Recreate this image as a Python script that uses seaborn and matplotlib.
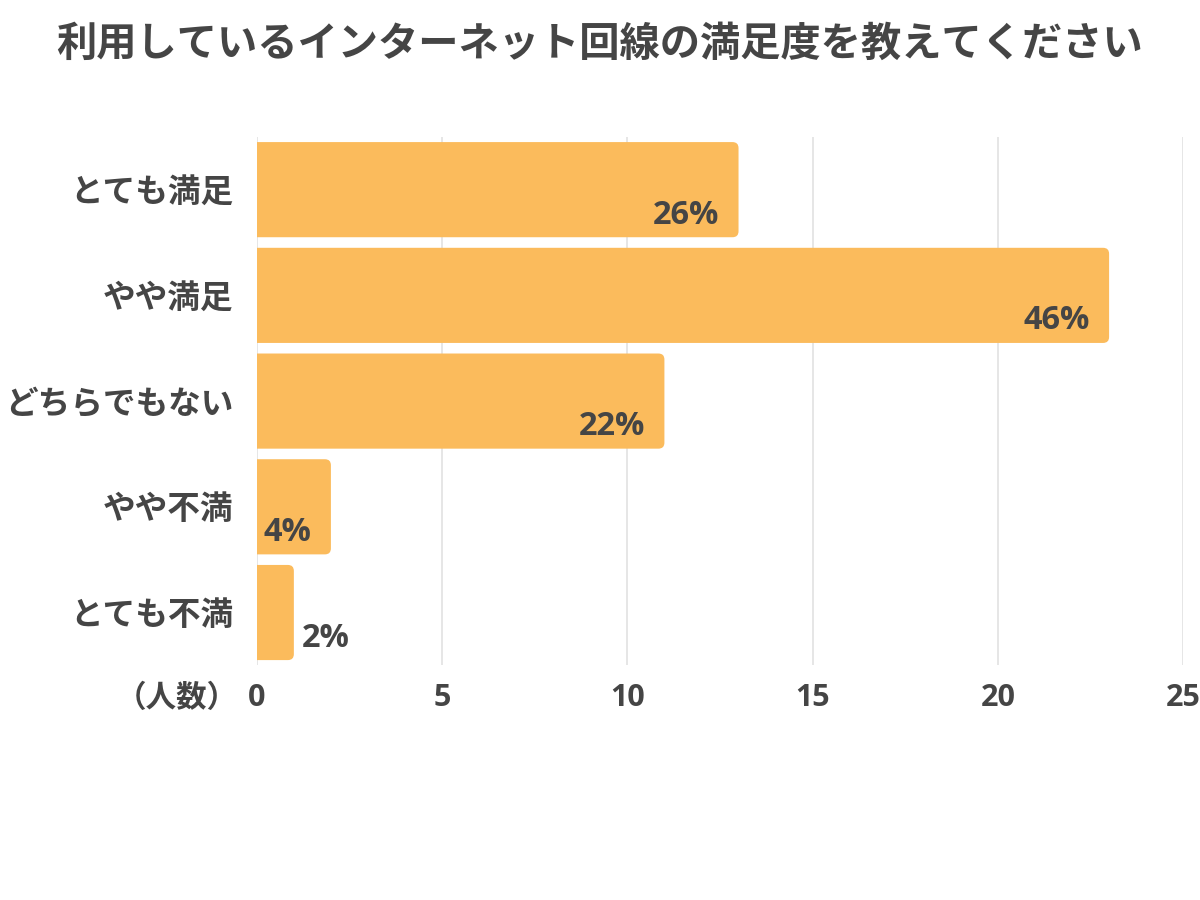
import matplotlib
matplotlib.use("Agg")
import matplotlib.pyplot as plt
import seaborn as sns
import pandas as pd
from matplotlib.patches import FancyBboxPatch

categories = ["とても満足", "やや満足", "どちらでもない", "やや不満", "とても不満"]
counts = [13, 23, 11, 2, 1]
percent_labels = ["26%", "46%", "22%", "4%", "2%"]
x_ticks = [0, 5, 10, 15, 20, 25]
title = "利用しているインターネット回線の満足度を教えてください"
axis_unit = "（人数）"

sns.set_theme(style="white")
plt.rcParams['font.family'] = ['Open Sans', 'Noto Sans CJK JP', 'DejaVu Sans']

BAR = "#FBBB5C"
TXT = "#454545"

df = pd.DataFrame({"cat": categories, "n": counts})

fig = plt.figure(figsize=(12, 9), dpi=100)
ax = fig.add_axes([0.214, 0.2607, 0.772, 0.5873])
sns.barplot(data=df, x="n", y="cat", orient="h", color=BAR, saturation=1,
            width=0.9, ax=ax, zorder=3)

ax.set_xlim(0, 25)
ax.set_ylim(4.5, -0.5)
ax.set_xticks(x_ticks)
ax.set_xticklabels([str(t) for t in x_ticks])
for s in ax.spines.values():
    s.set_visible(False)
ax.xaxis.grid(True, color="#e2e2e2", linewidth=1.2, zorder=0)
ax.yaxis.grid(False)
ax.set_axisbelow(True)
ax.tick_params(axis="x", length=0, pad=13, labelsize=22, labelcolor=TXT)
ax.tick_params(axis="y", length=0, pad=17, labelsize=23.5, labelcolor=TXT)
for lbl in ax.get_xticklabels() + ax.get_yticklabels():
    lbl.set_fontweight("bold")
ax.set_xlabel("")
ax.set_ylabel("")

# rounded right corners
xpx = 0.772 * 1200 / 25
ypx = 0.5873 * 900 / 5
aspect = xpx / ypx
r = 6 / xpx
for p in list(ax.patches):
    x0, y0 = p.get_x(), p.get_y()
    w, h = p.get_width(), p.get_height()
    fb = FancyBboxPatch((x0 - 0.5, y0), w + 0.5, h,
                        boxstyle=f"round,pad=0,rounding_size={r}",
                        mutation_aspect=aspect, facecolor=BAR,
                        edgecolor="none", zorder=3, clip_on=True)
    p.remove()
    ax.add_patch(fb)

for i, (v, lab) in enumerate(zip(counts, percent_labels)):
    bottom = i + 0.45
    if v >= 2:
        ax.annotate(lab, (v, bottom), xytext=(-14, 4), textcoords="offset points",
                    ha="right", va="bottom", fontsize=23.5, fontweight="bold",
                    color=TXT, zorder=5)
    else:
        ax.annotate(lab, (v, bottom), xytext=(6, 4), textcoords="offset points",
                    ha="left", va="bottom", fontsize=23.5, fontweight="bold",
                    color=TXT, zorder=5)

fig.text(0.198, 1 - 699 / 900, axis_unit, ha="right", va="center",
         fontsize=22, fontweight="bold", color=TXT)
fig.text(0.5, 1 - 45 / 900, title, ha="center", va="center",
         fontsize=29, fontweight="bold", color=TXT)

fig.savefig("out.png", dpi=100, facecolor="white")
